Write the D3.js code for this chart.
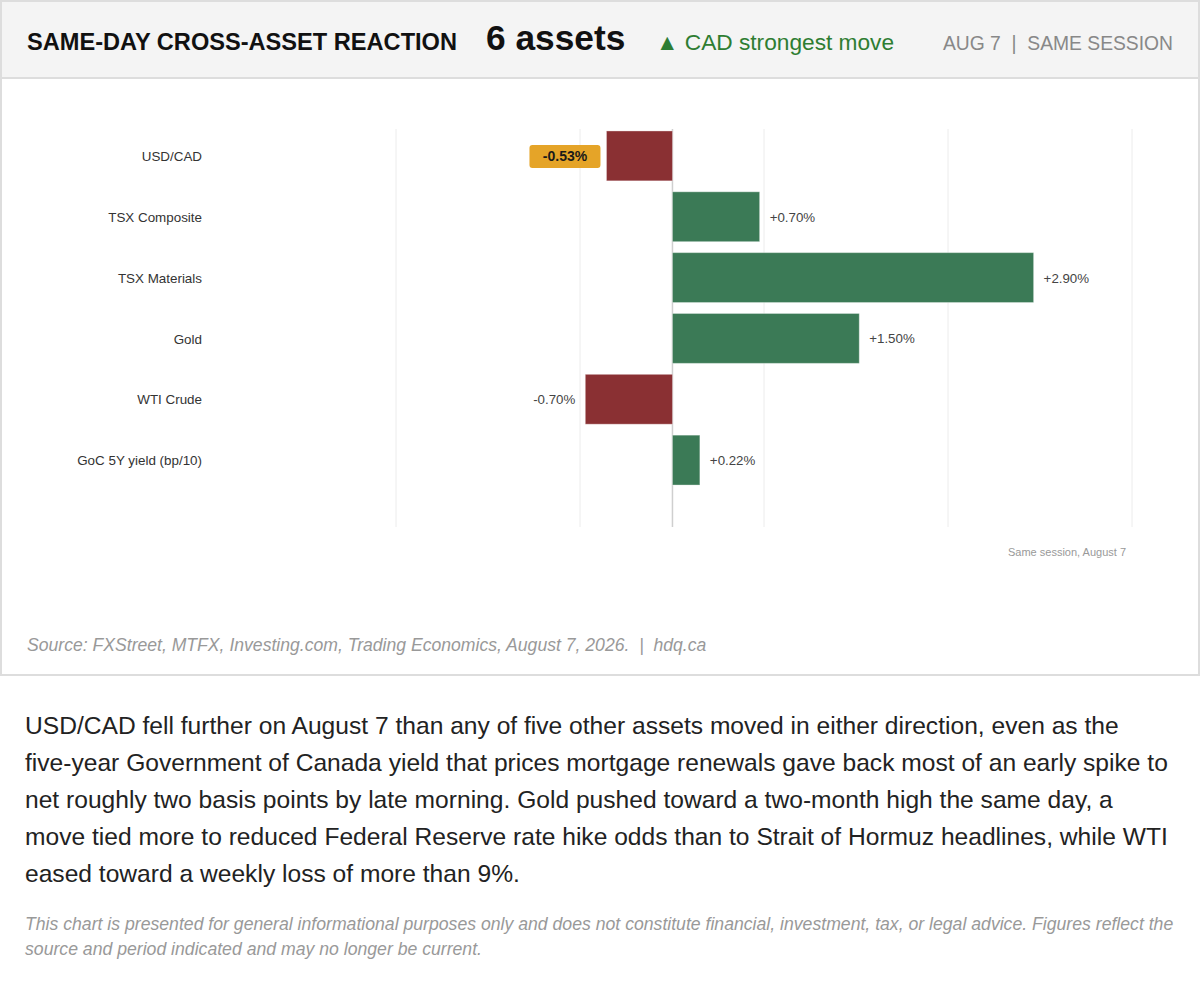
<!DOCTYPE html>
<html>
<head>
<meta charset="utf-8">
<script src="https://cdn.jsdelivr.net/npm/d3@7"></script>
<style>
  body { margin: 0; background: #fff; font-family: "Liberation Sans", Arial, sans-serif; }
  #card { display: block; }
  .para { margin: 31px 22px 0 25px; font-size: 24.6px; line-height: 37px; color: #222; }
  .para .nw { white-space: nowrap; }
  .disclaimer { margin: 20px 22px 0 25px; font-size: 17.65px; line-height: 25px; color: #999; font-style: italic; }
</style>
</head>
<body>
<svg id="card" width="1200" height="676"></svg>
<div class="para">USD/CAD fell further on August 7 than any of five other assets moved in either direction, even as the <span class="nw">five-year</span> Government of Canada yield that prices mortgage renewals gave back most of an early spike to net roughly two basis points by late morning. Gold pushed toward a <span class="nw">two-month</span> high the same day, a move tied more to reduced Federal Reserve rate hike odds than to Strait of Hormuz headlines, while WTI eased toward a weekly loss of more than 9%.</div>
<div class="disclaimer">This chart is presented for general informational purposes only and does not constitute financial, investment, tax, or legal advice. Figures reflect the source and period indicated and may no longer be current.</div>
<script>
// data
const assets = ["USD/CAD", "TSX Composite", "TSX Materials", "Gold", "WTI Crude", "GoC 5Y yield (bp/10)"];
const changes = [-0.53, 0.70, 2.90, 1.50, -0.70, 0.22];
const highlighted = "USD/CAD";
const xDomain = [-2.22, 3.69];

const W = 1200, H = 676;
const svg = d3.select("#card");

// card frame + header
svg.append("rect").attr("x", 1).attr("y", 1).attr("width", W - 2).attr("height", H - 2)
    .attr("fill", "#fff").attr("stroke", "#ddd").attr("stroke-width", 2);
svg.append("rect").attr("x", 1).attr("y", 1).attr("width", W - 2).attr("height", 77)
    .attr("fill", "#f4f4f4").attr("stroke", "#ddd").attr("stroke-width", 2);

svg.append("text").attr("x", 27).attr("y", 50)
    .style("font-size", "23.6px").style("font-weight", "bold").attr("fill", "#111")
    .text("SAME-DAY CROSS-ASSET REACTION");
svg.append("text").attr("x", 486).attr("y", 50)
    .style("font-size", "35.3px").style("font-weight", "bold").attr("fill", "#111")
    .text(assets.length + " assets");
svg.append("text").attr("x", 656).attr("y", 50)
    .style("font-size", "22.7px").attr("fill", "#2e7d32")
    .text("▲ CAD strongest move");
svg.append("text").attr("x", 1173).attr("y", 50).attr("text-anchor", "end")
    .style("font-size", "19.3px").attr("fill", "#888")
    .text("AUG 7  |  SAME SESSION").attr("xml:space", "preserve");

// scales
const x = d3.scaleLinear().domain(xDomain).range([396, 1132]);
const y = d3.scaleBand().domain(assets).range([120, 496]).paddingInner(0.18).paddingOuter(0.18);
const gridTop = 129, gridBottom = 527;

// gridlines: range split in quarters
const [r0, r1] = x.range();
const gridVals = d3.range(5).map(i => x.invert(r0 + i * (r1 - r0) / 4));
svg.append("g").selectAll("line").data(gridVals).enter().append("line")
    .attr("x1", d => x(d)).attr("x2", d => x(d))
    .attr("y1", gridTop).attr("y2", gridBottom)
    .attr("stroke", "#ececec").attr("stroke-width", 1);

// zero line
svg.append("line").attr("x1", x(0)).attr("x2", x(0)).attr("y1", gridTop).attr("y2", gridBottom)
    .attr("stroke", "#cfcfcf").attr("stroke-width", 1.5);

const rows = assets.map((a, i) => ({name: a, value: changes[i]}));

// bars
svg.append("g").selectAll("rect").data(rows).enter().append("rect")
    .attr("x", d => x(Math.min(0, d.value)))
    .attr("y", d => y(d.name))
    .attr("width", d => Math.abs(x(d.value) - x(0)))
    .attr("height", y.bandwidth())
    .attr("fill", d => d.value < 0 ? "#8a3033" : "#3b7a56")
    .attr("stroke", "rgba(255,255,255,0.35)").attr("stroke-width", 1);

// category labels
svg.append("g").selectAll("text").data(rows).enter().append("text")
    .attr("x", 202).attr("y", d => y(d.name) + y.bandwidth() / 2)
    .attr("dy", "0.38em").attr("text-anchor", "end")
    .style("font-size", "13.4px").attr("fill", "#333")
    .text(d => d.name);

const fmt = v => (v > 0 ? "+" : "") + v.toFixed(2) + "%";

// value labels
const vl = svg.append("g").selectAll("g").data(rows).enter().append("g")
    .attr("transform", d => {
        const tx = d.value < 0 ? x(d.value) - 10 : x(d.value) + 10;
        return `translate(${tx},${y(d.name) + y.bandwidth() / 2})`;
    });

vl.filter(d => d.name === highlighted).append("rect")
    .attr("x", -67).attr("y", -11).attr("width", 71).attr("height", 23).attr("rx", 3)
    .attr("fill", "#e5a428");

vl.append("text")
    .attr("x", d => d.name === highlighted ? -31.5 : 0)
    .attr("dy", "0.38em")
    .attr("text-anchor", d => d.name === highlighted ? "middle" : (d.value < 0 ? "end" : "start"))
    .style("font-size", d => d.name === highlighted ? "14px" : "13.3px")
    .style("font-weight", d => d.name === highlighted ? "bold" : "normal")
    .attr("fill", d => d.name === highlighted ? "#1a1a1a" : "#444")
    .text(d => fmt(d.value));

// note + source
svg.append("text").attr("x", 1126).attr("y", 556).attr("text-anchor", "end")
    .style("font-size", "11px").attr("fill", "#999")
    .text("Same session, August 7");
svg.append("text").attr("x", 27).attr("y", 651)
    .style("font-size", "17.6px").style("font-style", "italic").attr("fill", "#999")
    .attr("xml:space", "preserve")
    .text("Source: FXStreet, MTFX, Investing.com, Trading Economics, August 7, 2026.  |  hdq.ca");
</script>
</body>
</html>
